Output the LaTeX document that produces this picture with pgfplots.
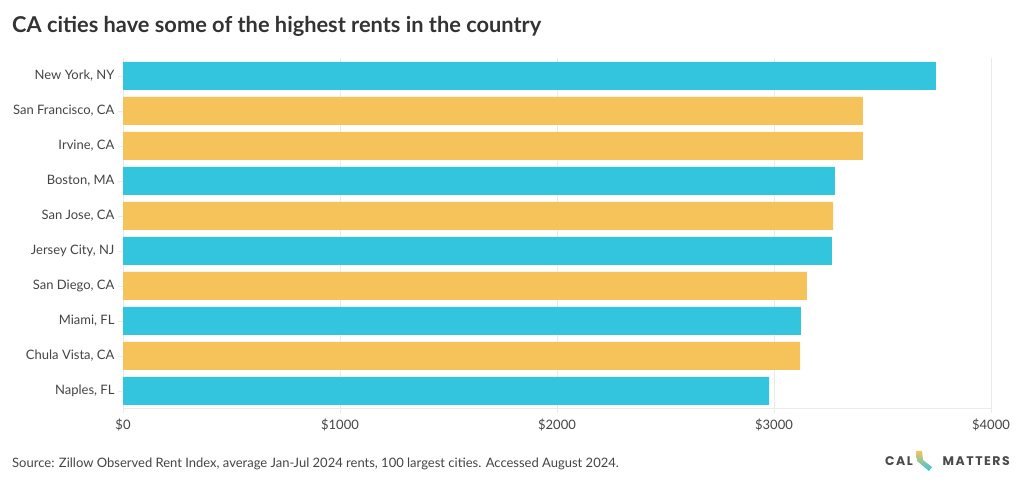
\documentclass[border=0pt]{standalone}
\usepackage{pgfplots}
\pgfplotsset{compat=1.18}
\usepackage{fontspec}
\setmainfont{Lato}
\newfontfamily\logofont[LetterSpace=12]{Poppins}
\definecolor{cblue}{HTML}{33C5DE}
\definecolor{corange}{HTML}{F5C35A}
\definecolor{txt}{HTML}{444444}
\definecolor{ttl}{HTML}{333333}
\definecolor{gridc}{HTML}{EBEBEB}
\definecolor{logoc}{HTML}{4A4A4A}
\begin{document}
\begin{tikzpicture}[x=1pt,y=1pt]
\useasboundingbox (0pt,0pt) rectangle (1020pt,487pt);
\node[anchor=base west, font=\fontsize{21.8}{24}\selectfont\bfseries, text=ttl, inner sep=0] at (12pt,454pt) {CA cities have some of the highest rents in the country};
\begin{axis}[
  at={(123pt,78.5pt)}, anchor=south west, scale only axis,
  width=868pt, height=350pt,
  xmin=0, xmax=4000, ymin=-0.5, ymax=9.5,
  xbar, bar width=28pt, bar shift=0pt,
  ytick={0,...,9},
  yticklabels={{Naples, FL},{Chula Vista, CA},{Miami, FL},{San Diego, CA},{Jersey City, NJ},{San Jose, CA},{Boston, MA},{Irvine, CA},{San Francisco, CA},{New York, NY}},
  xtick={0,1000,2000,3000,4000},
  xticklabels={\$0,\$1000,\$2000,\$3000,\$4000},
  xmajorgrids, grid style={gridc, line width=0.8pt},
  axis x line*=bottom, axis y line*=left,
  x axis line style={gridc, line width=0.8pt, -},
  y axis line style={draw=none},
  tick align=outside, major tick length=5pt,
  tick style={gridc, line width=0.8pt},
  ticklabel style={font=\fontsize{13}{15}\selectfont, text=txt},
  xticklabel style={yshift=-2pt},
  every axis plot/.append style={draw=none},
]
\addplot[fill=cblue] coordinates {(3746,9) (3281,6) (3267,4) (3124,2) (2977,0)};
\addplot[fill=corange] coordinates {(3410,8) (3410,7) (3272,5) (3152,3) (3120,1)};
\end{axis}
\node[anchor=base west, font=\fontsize{13}{15}\selectfont, text=txt, inner sep=0] at (12pt,19pt) {Source: Zillow Observed Rent Index, average Jan-Jul 2024 rents, 100 largest cities. Accessed August 2024.};
\node[anchor=base west, font=\logofont\fontsize{12.5}{14}\selectfont\bfseries, text=logoc, inner sep=0] at (885pt,21pt) {CAL};
\node[anchor=base east, font=\logofont\fontsize{12.5}{14}\selectfont\bfseries, text=logoc, inner sep=0] at (1010pt,21pt) {MATTERS};
\shade[top color=corange, bottom color=cblue] (916pt,36pt) -- (922pt,36pt) -- (923pt,27pt) -- (932pt,20pt) -- (929pt,16pt) -- (917pt,26pt) -- cycle;
\end{tikzpicture}
\end{document}
